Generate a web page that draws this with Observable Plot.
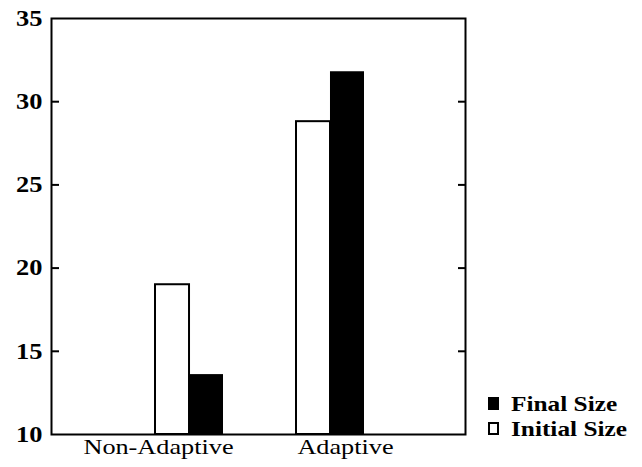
<!DOCTYPE html>
<html>
<head>
<meta charset="utf-8">
<script src="https://cdn.jsdelivr.net/npm/d3@7"></script>
<script src="https://cdn.jsdelivr.net/npm/@observablehq/plot@0.6"></script>
<style>
  body { margin: 0; background: #fff; }
  #chart { position: relative; width: 642px; height: 467px; }
  #chart svg { display: block; }
  .legend {
    position: absolute; left: 488px; top: 391px;
    font-family: "Liberation Serif", "Times New Roman", serif;
    font-weight: bold; font-size: 22px; color: #000;
  }
  .legend .item { display: flex; align-items: center; height: 25px; }
  .legend .swatch { width: 11px; height: 13px; box-sizing: border-box; border: 2px solid #000; margin-right: 12px; }
  .legend .name { display: inline-block; transform: scaleX(1.15); transform-origin: left center; white-space: nowrap; }
</style>
</head>
<body>
<div id="chart"></div>
<script>
// Mean sizes per condition
const groups = ["Non-Adaptive", "Adaptive"];
const initialSize = [19.0, 28.8];
const finalSize = [13.6, 31.8];

// Axis ticks
const yTicks = [10, 15, 20, 25, 30, 35];
const innerTicks = [15, 20, 25, 30];
const yMin = 10, yMax = 35;

// Legend entries (label, fill)
const legendNames = ["Final Size", "Initial Size"];
const legendFills = ["#000", "#fff"];

const rows = groups.map((g, i) => ({group: g, initial: initialSize[i], final: finalSize[i]}));

const W = 642, H = 467;
const mL = 51, mR = 177, mT = 18, mB = 33;
const padIn = 0.518, padOut = 0.727;
// each group band holds two adjacent bars: the left half is initial, the right half final
const step = (W - mL - mR) / (groups.length - padIn + 2 * padOut);
const halfBand = step * (1 - padIn) / 2;

const serif = "'Liberation Serif', 'Times New Roman', serif";

const chart = Plot.plot({
  width: W,
  height: H,
  marginLeft: mL,
  marginRight: mR,
  marginTop: mT,
  marginBottom: mB,
  style: {background: "#fff", color: "#000", fontFamily: serif},
  x: {domain: groups, paddingInner: padIn, paddingOuter: padOut, align: 0.505},
  y: {domain: [yMin, yMax]},
  marks: [
    Plot.barY(rows, {x: "group", y1: () => yMin, y2: "initial", fill: "#fff", stroke: "#000", strokeWidth: 2, insetRight: halfBand}),
    Plot.barY(rows, {x: "group", y1: () => yMin, y2: "final", fill: "#000", insetLeft: halfBand}),
    Plot.frame({stroke: "#000", strokeWidth: 2}),
    // inward tick marks on both sides
    Plot.axisY(innerTicks, {anchor: "left", tickSize: 8, dx: 8, strokeWidth: 2, tickFormat: () => "", label: null}),
    Plot.axisY(innerTicks, {anchor: "right", tickSize: 8, dx: -8, strokeWidth: 2, tickFormat: () => "", label: null}),
    // tick labels
    Plot.axisY(yTicks, {anchor: "left", tickSize: 0, tickPadding: 9, fontSize: 23, fontWeight: "bold", label: null}),
    Plot.axisX([groups[0]], {tickSize: 0, tickPadding: 5, dx: -31, fontSize: 21, label: null}),
    Plot.axisX([groups[1]], {tickSize: 0, tickPadding: 5, dx: 15, fontSize: 21, label: null})
  ]
});

// widen the serif glyphs horizontally about each label's anchor point
function widen(sel, s) {
  chart.querySelectorAll(sel).forEach(t => {
    const x = parseFloat(t.getAttribute("x"));
    const ax = Number.isFinite(x) ? x : 0;
    const tr = t.getAttribute("transform") || "";
    t.setAttribute("transform", `${tr} translate(${ax},0) scale(${s},1) translate(${-ax},0)`.trim());
  });
}
widen("[aria-label='y-axis tick label'] text", 1.15);
widen("[aria-label='x-axis tick label'] text", 1.25);

const wrap = document.getElementById("chart");
wrap.appendChild(chart);

const legend = document.createElement("div");
legend.className = "legend";
legendNames.forEach((name, i) => {
  const item = document.createElement("div");
  item.className = "item";
  const sw = document.createElement("span");
  sw.className = "swatch";
  sw.style.background = legendFills[i];
  const label = document.createElement("span");
  label.className = "name";
  label.textContent = name;
  item.append(sw, label);
  legend.appendChild(item);
});
wrap.appendChild(legend);
</script>
</body>
</html>
